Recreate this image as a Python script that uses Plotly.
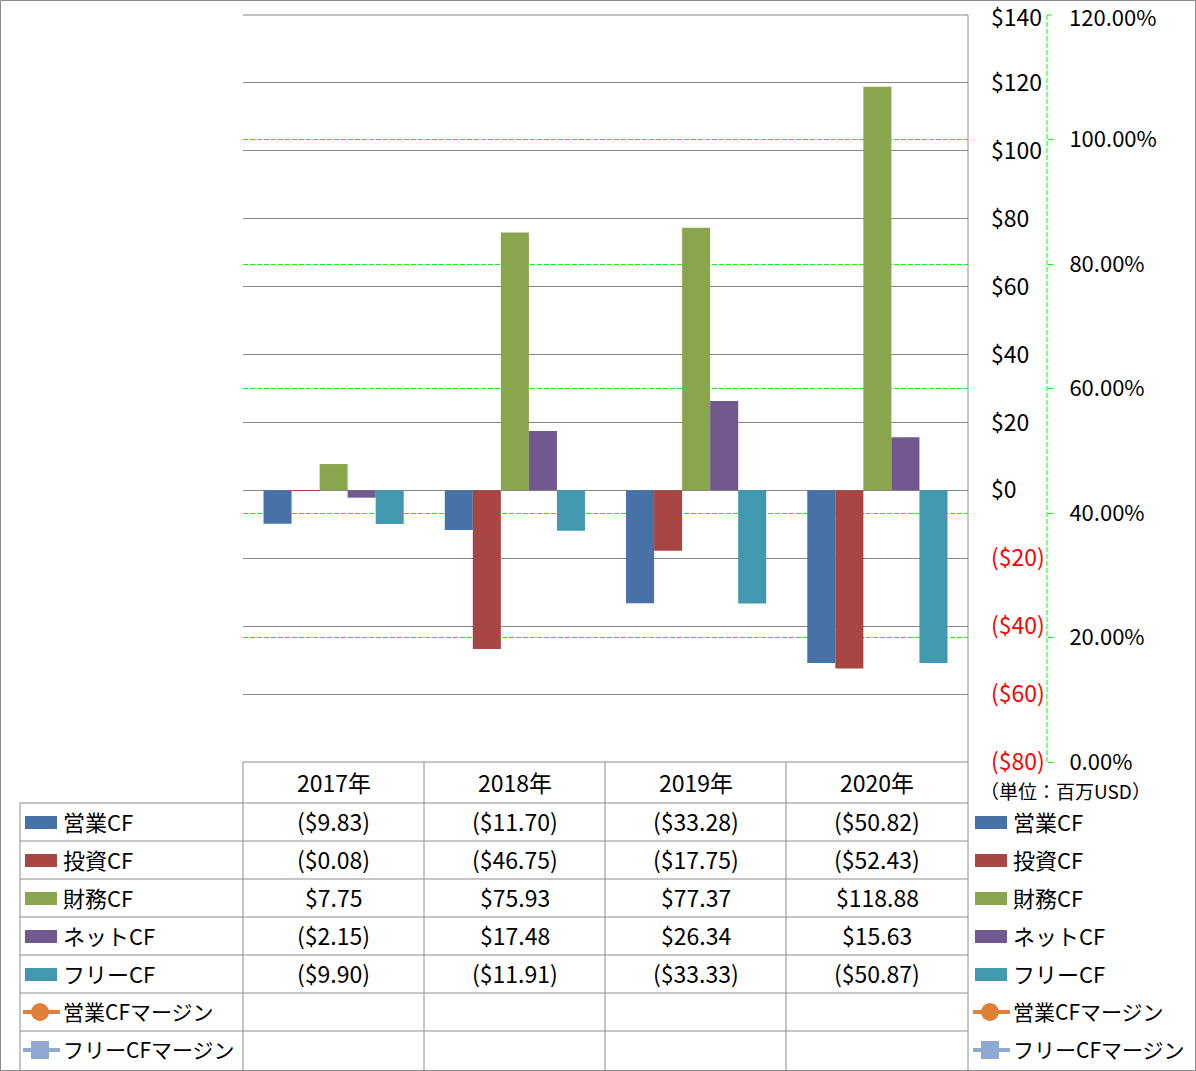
import plotly.graph_objects as go

# ---------------- data ----------------
years = ["2017年", "2018年", "2019年", "2020年"]
series_names = ["営業CF", "投資CF", "財務CF", "ネットCF", "フリーCF"]
op_cf = [-9.83, -11.70, -33.28, -50.82]
inv_cf = [-0.08, -46.75, -17.75, -52.43]
fin_cf = [7.75, 75.93, 77.37, 118.88]
net_cf = [-2.15, 17.48, 26.34, 15.63]
free_cf = [-9.90, -11.91, -33.33, -50.87]
margin_names = ["営業CFマージン", "フリーCFマージン"]
op_margin = [None, None, None, None]
free_margin = [None, None, None, None]
y_ticks = [-80, -60, -40, -20, 0, 20, 40, 60, 80, 100, 120, 140]
y2_ticks = [0.0, 0.2, 0.4, 0.6, 0.8, 1.0, 1.2]
unit_label = "（単位：百万USD）"

series_values = [op_cf, inv_cf, fin_cf, net_cf, free_cf]
colors = ["#4672A8", "#A84644", "#89A54E", "#71588F", "#4198AF"]
margin_colors = ["#DE8037", "#8FA9D2"]

FONT = "Noto Sans CJK JP"
W, H = 1196, 1071
L, R, T, B = 243, 1047, 15, 762  # plot region in pixels (secondary axis at R)
Y_MIN, Y_MAX = -80, 140
Y2_MIN, Y2_MAX = 0.0, 1.2


def px(x):
    return (x - L) / (R - L)


def py(y):
    return (B - y) / (B - T)


def money(v):
    return f"(${abs(v):,.2f})" if v < 0 else f"${v:,.2f}"


def money_tick(v):
    if v < 0:
        return f"<span style='color:#FF0000'>(${abs(v)})</span>"
    return f"${v}"


fig = go.Figure()
for name, vals, col in zip(series_names, series_values, colors):
    fig.add_trace(go.Bar(x=years, y=vals, name=name, marker=dict(color=col, line=dict(width=0)),
                         showlegend=False))
for name, vals, col in zip(margin_names, [op_margin, free_margin], margin_colors):
    fig.add_trace(go.Scatter(x=years, y=vals, name=name, yaxis="y2", mode="lines+markers",
                             line=dict(color=col, width=4), showlegend=False))

shapes = []
ann = []
GRAY = "#8C8C8C"


def hline(y, x0, x1, color=GRAY, width=1):
    shapes.append(dict(type="line", xref="paper", yref="paper", x0=px(x0), x1=px(x1),
                       y0=py(y), y1=py(y), line=dict(color=color, width=width), layer="above"))


def vline(x, y0, y1, color=GRAY, width=1, dash=None):
    d = dict(color=color, width=width)
    if dash:
        d["dash"] = dash
    shapes.append(dict(type="line", xref="paper", yref="paper", x0=px(x), x1=px(x),
                       y0=py(y0), y1=py(y1), line=d, layer="above"))


# outer border
shapes.append(dict(type="rect", xref="paper", yref="paper", x0=px(0.5), x1=px(1195.5),
                   y0=py(0.5), y1=py(1070.5), line=dict(color=GRAY, width=1)))
# top gridline
hline(15, 243, 968, color="#868686")
# secondary axis dashed line + top tick
vline(1047, 15, 762, color="#00FF00", dash="5px,2px")
hline(15, 1047, 1052, color="#00FF00")
# table grid
hline(762, 243, 968)
row_lines = [803, 841, 879, 917, 955, 993, 1031]
for y in row_lines:
    hline(y, 20, 968)
vline(20, 803, 1070)
for x in [243, 424, 605, 786]:
    vline(x, 762, 1070)
vline(968, 15, 1070)

# top-end tick labels (drawn as text so they are not dropped at the range edge)
ann.append(dict(x=px(989), y=py(16), xref="paper", yref="paper", text=money_tick(Y_MAX), showarrow=False,
                xanchor="left", yanchor="middle", font=dict(family=FONT, size=23, color="#000000")))
ann.append(dict(x=px(1067), y=py(16), xref="paper", yref="paper", text=f"{Y2_MAX:.2%}", showarrow=False,
                xanchor="left", yanchor="middle", font=dict(family=FONT, size=22, color="#000000")))

col_centers = [333.5, 514.5, 695.5, 877]
row_centers = [822, 860, 898, 936, 974, 1012, 1050]
TXT = dict(family=FONT, size=23, color="#000000")
LBL = dict(family=FONT, size=22, color="#000000")
LBL_M = dict(family=FONT, size=21, color="#000000")

for yr, cx in zip(years, col_centers):
    ann.append(dict(x=px(cx), y=py(782), xref="paper", yref="paper", text=yr, showarrow=False,
                    xanchor="center", yanchor="middle", font=TXT))

for i, (name, vals, col) in enumerate(zip(series_names, series_values, colors)):
    cy = row_centers[i]
    for lx, tx in [(25, 61), (975, 1011)]:
        shapes.append(dict(type="rect", xref="paper", yref="paper", x0=px(lx), x1=px(lx + 32),
                           y0=py(cy - 6), y1=py(cy + 7), fillcolor=col, line=dict(width=0)))
        ann.append(dict(x=px(tx), y=py(cy - 1), xref="paper", yref="paper", text=name, showarrow=False,
                        xanchor="left", yanchor="middle", font=LBL))
    for v, cx in zip(vals, col_centers):
        ann.append(dict(x=px(cx), y=py(cy - 1), xref="paper", yref="paper", text=money(v), showarrow=False,
                        xanchor="center", yanchor="middle", font=TXT))

for j, (name, col) in enumerate(zip(margin_names, margin_colors)):
    cy = row_centers[5 + j]
    for lx, tx in [(23, 61), (973, 1011)]:
        hline(cy, lx, lx + 37, color=col, width=4)
        cx = lx + 17
        if j == 0:
            shapes.append(dict(type="circle", xref="paper", yref="paper", x0=px(cx - 9), x1=px(cx + 9),
                               y0=py(cy - 9), y1=py(cy + 9), fillcolor=col, line=dict(width=0),
                               layer="above"))
        else:
            shapes.append(dict(type="rect", xref="paper", yref="paper", x0=px(cx - 9), x1=px(cx + 9),
                               y0=py(cy - 9), y1=py(cy + 9), fillcolor=col, line=dict(width=0),
                               layer="above"))
        ann.append(dict(x=px(tx), y=py(cy - 1), xref="paper", yref="paper", text=name, showarrow=False,
                        xanchor="left", yanchor="middle", font=LBL_M))

ann.append(dict(x=px(978), y=py(790), xref="paper", yref="paper", text=unit_label, showarrow=False,
                xanchor="left", yanchor="middle", font=dict(family=FONT, size=19, color="#000000")))

fig.update_layout(
    width=W, height=H, autosize=False,
    margin=dict(l=L, r=W - R, t=T, b=H - B, pad=0),
    paper_bgcolor="white", plot_bgcolor="white",
    barmode="group", bargap=41 / 181, bargroupgap=0,
    font=dict(family=FONT, size=20, color="#000000"),
    xaxis=dict(domain=[0, (968 - L) / (R - L)], range=[-0.5, 3.5], showticklabels=False,
               showgrid=False, zeroline=False, showline=False, ticks=""),
    yaxis=dict(range=[Y_MIN, Y_MAX], side="right", tickvals=y_ticks[:-1],
               ticktext=[money_tick(v) for v in y_ticks[:-1]], showgrid=True, gridcolor="#868686",
               gridwidth=1, zeroline=False, showline=False, ticks="", ticklabelstandoff=22,
               tickfont=dict(family=FONT, size=23)),
    yaxis2=dict(range=[Y2_MIN, Y2_MAX], overlaying="y", anchor="free", position=1, side="right",
                tickvals=y2_ticks[:-1], tickformat=".2%", showgrid=True, gridcolor="#00FF00",
                griddash="5px,2px", gridwidth=1, zeroline=False, showline=False, ticks="outside",
                ticklen=5, tickcolor="#00FF00", tickwidth=1, ticklabelstandoff=12,
                tickfont=dict(family=FONT, size=22)),
    shapes=shapes, annotations=ann, showlegend=False,
)

fig.write_html("out.html", config={"displayModeBar": False},
               post_script="document.body.style.margin='0px';")
